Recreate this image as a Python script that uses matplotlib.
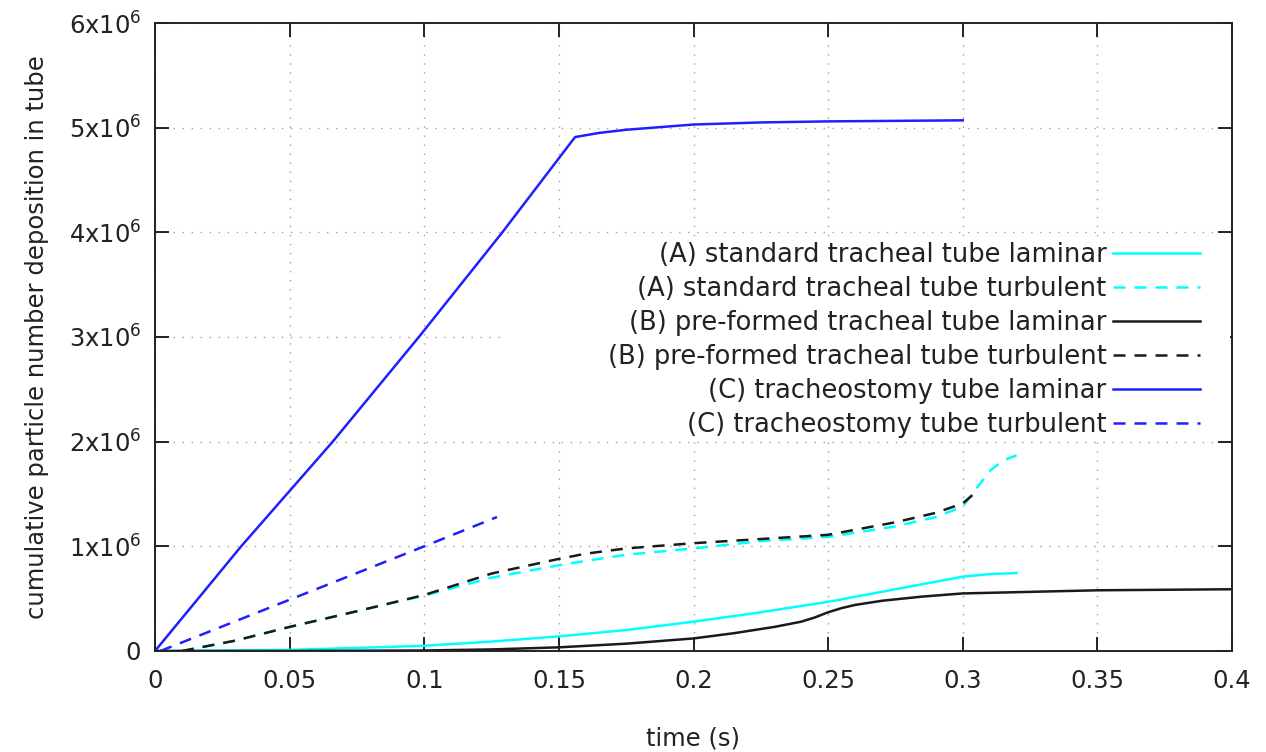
import matplotlib.pyplot as plt
from matplotlib.patches import Rectangle

# (A) standard tracheal tube
a_lam_t = [0, 0.05, 0.1, 0.125, 0.15, 0.175, 0.2, 0.225, 0.25, 0.275, 0.3, 0.31, 0.32]
a_lam_y = [0, 0.01e6, 0.05e6, 0.09e6, 0.14e6, 0.2e6, 0.28e6, 0.37e6, 0.47e6, 0.59e6, 0.71e6, 0.735e6, 0.745e6]
a_tur_t = [0.01, 0.03, 0.05, 0.075, 0.1, 0.125, 0.15, 0.175, 0.2, 0.225, 0.25, 0.275,
           0.29, 0.3, 0.305, 0.31, 0.315, 0.32]
a_tur_y = [0, 0.1e6, 0.23e6, 0.38e6, 0.53e6, 0.7e6, 0.82e6, 0.92e6, 0.98e6, 1.05e6, 1.09e6, 1.19e6,
           1.28e6, 1.38e6, 1.55e6, 1.72e6, 1.82e6, 1.87e6]

# (B) pre-formed tracheal tube
b_lam_t = [0, 0.05, 0.1, 0.125, 0.15, 0.175, 0.2, 0.215, 0.23, 0.24, 0.245, 0.25, 0.255, 0.26,
           0.27, 0.285, 0.3, 0.35, 0.4]
b_lam_y = [0, 0, 0.005e6, 0.015e6, 0.035e6, 0.07e6, 0.12e6, 0.17e6, 0.23e6, 0.28e6, 0.32e6,
           0.37e6, 0.41e6, 0.44e6, 0.48e6, 0.52e6, 0.55e6, 0.58e6, 0.59e6]
b_tur_t = [0.01, 0.03, 0.05, 0.075, 0.1, 0.125, 0.15, 0.16, 0.175, 0.2, 0.225, 0.25, 0.275,
           0.29, 0.3, 0.305]
b_tur_y = [0, 0.1e6, 0.23e6, 0.38e6, 0.535e6, 0.74e6, 0.88e6, 0.93e6, 0.98e6, 1.03e6, 1.07e6,
           1.11e6, 1.23e6, 1.32e6, 1.41e6, 1.52e6]

# (C) tracheostomy tube
c_lam_t = [0, 0.032, 0.066, 0.098, 0.129, 0.156, 0.165, 0.175, 0.19, 0.2, 0.225, 0.25, 0.3]
c_lam_y = [0, 1.0e6, 2.0e6, 3.0e6, 4.0e6, 4.91e6, 4.95e6, 4.98e6, 5.01e6, 5.03e6, 5.05e6, 5.06e6, 5.07e6]
c_tur_t = [0.002, 0.05, 0.1, 0.127]
c_tur_y = [0, 0.49e6, 1.0e6, 1.28e6]

x_ticks = [0, 0.05, 0.1, 0.15, 0.2, 0.25, 0.3, 0.35, 0.4]
x_labels = ['0', '0.05', '0.1', '0.15', '0.2', '0.25', '0.3', '0.35', '0.4']
y_ticks = [0, 1e6, 2e6, 3e6, 4e6, 5e6, 6e6]
y_labels = ['0', '1x10$^{6}$', '2x10$^{6}$', '3x10$^{6}$', '4x10$^{6}$', '5x10$^{6}$', '6x10$^{6}$']

CYAN = '#00ffff'
BLACK = '#1a1a1a'
BLUE = '#1f1fff'
DASH = (0, (4.8, 3.6))

plt.rcParams['font.family'] = ['DejaVu Sans']
plt.rcParams['mathtext.fontset'] = 'dejavusans'

fig = plt.figure(figsize=(12.66, 7.52), dpi=100)
ax = fig.add_axes([155 / 1266, 1 - 651 / 752, 1077 / 1266, 628 / 752])

lw = 1.8
h1, = ax.plot(a_lam_t, a_lam_y, color=CYAN, lw=lw, label='(A) standard tracheal tube laminar')
h2, = ax.plot(a_tur_t, a_tur_y, color=CYAN, lw=lw, ls=DASH, label='(A) standard tracheal tube turbulent')
h3, = ax.plot(b_lam_t, b_lam_y, color=BLACK, lw=lw, label='(B) pre-formed tracheal tube laminar')
h4, = ax.plot(b_tur_t, b_tur_y, color=BLACK, lw=lw, ls=DASH, label='(B) pre-formed tracheal tube turbulent')
h5, = ax.plot(c_lam_t, c_lam_y, color=BLUE, lw=lw, label='(C) tracheostomy tube laminar')
h6, = ax.plot(c_tur_t, c_tur_y, color=BLUE, lw=lw, ls=DASH, label='(C) tracheostomy tube turbulent')

ax.set_xlim(0, 0.4)
ax.set_ylim(0, 6e6)
ax.set_xticks(x_ticks)
ax.set_xticklabels(x_labels)
ax.set_yticks(y_ticks)
ax.set_yticklabels(y_labels)
ax.tick_params(direction='in', length=10, width=1.2, labelsize=17.5, top=True, right=True,
               colors='black', labelcolor='#222222')
ax.tick_params(axis='x', pad=13)
ax.tick_params(axis='y', pad=10)
ax.grid(True, color='#a0a0a0', lw=1, ls=(0, (1, 5.5)))
for s in ax.spines.values():
    s.set_linewidth(1.4)
    s.set_color('#222222')

ax.set_xlabel('time (s)', fontsize=17.5, color='#222222', labelpad=24)
ax.set_ylabel('cumulative particle number deposition in tube', fontsize=17.5, color='#222222', labelpad=14)

# opaque key box covering the grid
ax.add_patch(Rectangle((0.32, 0.336), 0.678, 0.323, transform=ax.transAxes,
                       facecolor='white', edgecolor='none', zorder=1.8))

leg = ax.legend(handles=[h1, h2, h3, h4, h5, h6], loc='upper right', bbox_to_anchor=(0.9825, 0.672),
                frameon=False, markerfirst=False, fontsize=18.5, handlelength=3.4,
                handletextpad=0.25, labelspacing=0.31, borderpad=0)
for t in leg.get_texts():
    t.set_ha('right')
    t.set_color('#222222')
leg._legend_box.align = 'right'

fig.savefig('out.png', dpi=100)
